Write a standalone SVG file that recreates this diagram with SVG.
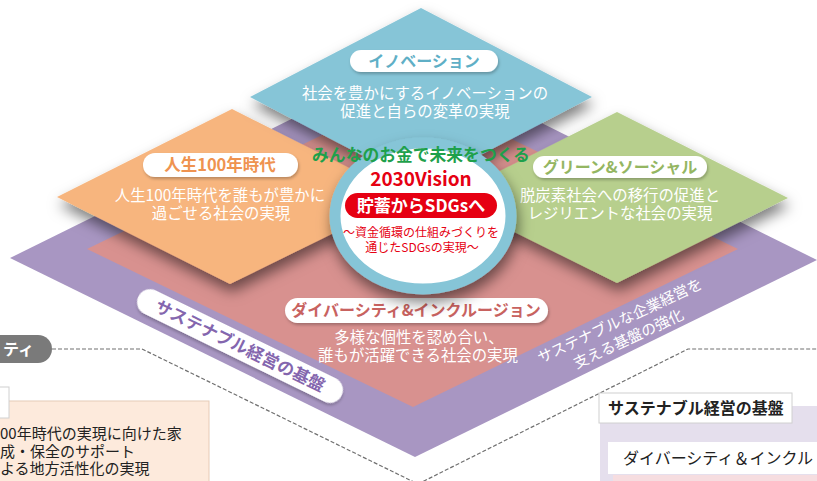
<svg xmlns="http://www.w3.org/2000/svg" width="817" height="481" viewBox="0 0 817 481">
<defs>
<filter id="sh" x="-20%" y="-20%" width="140%" height="160%"><feDropShadow dx="2" dy="8" stdDeviation="7" flood-color="#000" flood-opacity="0.5"/></filter>
<filter id="shs" x="-10%" y="-30%" width="120%" height="180%"><feDropShadow dx="1" dy="2" stdDeviation="1.5" flood-color="#000" flood-opacity="0.25"/></filter>
<style>
text{font-family:"Noto Sans CJK JP","Noto Sans",sans-serif}
.lbl{font-weight:bold;font-size:16px;text-anchor:middle}
.desc{fill:#fff;font-size:15.4px;text-anchor:middle}
.pill{fill:#fff}
.dash{fill:none;stroke:#707070;stroke-width:1.2;stroke-dasharray:4 2}
</style>
</defs>
<rect width="817" height="481" fill="#fff"/>
<g id="node-base">
<polygon points="10,258 413,59 817,260 415,457" fill="#A896C2"/>
<g transform="translate(240,346) rotate(26)">
<rect x="-113" y="-13" width="226" height="26" rx="13" class="pill" filter="url(#shs)"/>
<text x="0" y="6" class="lbl" style="font-size:17px" fill="#8466AE">サステナブル経営の基盤</text>
</g>
<g transform="translate(620,321) rotate(-25)">
<text x="0" y="5" class="desc" style="font-size:15px">サステナブルな企業経営を</text>
<text x="0" y="25" class="desc" style="font-size:15px">支える基盤の強化</text>
</g>
</g>
<g id="node-diversity">
<polygon points="87,249 413,91 738,249 413,407" fill="#D8918F"/>
<rect x="285" y="298" width="263" height="25" rx="12.5" class="pill" filter="url(#shs)"/>
<text x="416" y="316" class="lbl" fill="#C8625F">ダイバーシティ&amp;インクルージョン</text>
<text x="419" y="343" class="desc">多様な個性を認め合い、</text>
<text x="418" y="361" class="desc">誰もが活躍できる社会の実現</text>
</g>
<g id="node-life100">
<polygon points="57,197 232,109 407,197 230,284" fill="#F7B57E" filter="url(#sh)"/>
<rect x="143" y="153" width="155" height="24" rx="12" class="pill" filter="url(#shs)"/>
<text x="220" y="171" class="lbl" style="font-size:16.5px" fill="#EF9350">人生100年時代</text>
<text x="220" y="201" class="desc">人生100年時代を誰もが豊かに</text>
<text x="221" y="219" class="desc">過ごせる社会の実現</text>
</g>
<g id="node-green">
<polygon points="446,198 617,112 788,198 617,283" fill="#B7CF8D" filter="url(#sh)"/>
<rect x="533" y="156" width="174" height="22" rx="11" class="pill" filter="url(#shs)"/>
<text x="620" y="173" class="lbl" fill="#94B662">グリーン&amp;ソーシャル</text>
<text x="620" y="201" class="desc">脱炭素社会への移行の促進と</text>
<text x="620" y="219" class="desc">レジリエントな社会の実現</text>
</g>
<g id="node-innovation">
<polygon points="250,97 421,8 592,97 421,186" fill="#86C5D7" filter="url(#sh)"/>
<rect x="350" y="50" width="148" height="22" rx="11" class="pill" filter="url(#shs)"/>
<text x="424" y="67" class="lbl" fill="#5FAFC6">イノベーション</text>
<text x="425" y="99" class="desc">社会を豊かにするイノベーションの</text>
<text x="425" y="117" class="desc">促進と自らの変革の実現</text>
</g>
<g id="node-vision">
<ellipse cx="423" cy="216" rx="88" ry="73" fill="#fff" stroke="#86C5D7" stroke-width="11" filter="url(#sh)"/>
<text x="421" y="161" text-anchor="middle" font-weight="bold" font-size="16.8" fill="#1EA04B">みんなのお金で未来をつくる</text>
<text x="421" y="186" text-anchor="middle" font-weight="bold" font-size="19" fill="#E60012">2030Vision</text>
<rect x="345" y="193" width="152" height="25" rx="12.5" fill="#E60012"/>
<text x="421" y="212" text-anchor="middle" font-weight="bold" font-size="17" fill="#fff">貯蓄からSDGsへ</text>
<text x="421" y="237" text-anchor="middle" font-size="12" fill="#E60012">～資金循環の仕組みづくりを</text>
<text x="422" y="252" text-anchor="middle" font-size="12" fill="#E60012">通じたSDGsの実現～</text>
</g>
<g id="connectors">
<path class="dash" d="M52,349 H142 L418,484"/>
<path class="dash" d="M418,484 L688,349 H817"/>
</g>
<g id="node-left-tag">
<rect x="-40" y="335" width="92" height="28" rx="14" fill="#7A7A7A"/>
<text x="34" y="355" text-anchor="end" font-weight="bold" font-size="16" fill="#fff">ティ</text>
</g>
<g id="node-left-panel">
<rect x="-2" y="401" width="211" height="84" fill="#FDEADC" stroke="#E6CBB7"/>
<rect x="-50" y="387" width="59" height="31" fill="#fff" stroke="#D0D0D0"/>
<text x="0" y="439" font-size="15" fill="#222">00年時代の実現に向けた家</text>
<text x="0" y="456.5" font-size="15" fill="#222">成・保全のサポート</text>
<text x="0" y="474" font-size="15" fill="#222">よる地方活性化の実現</text>
</g>
<g id="node-right-panel">
<rect x="600" y="406" width="220" height="80" fill="#E5DFED"/>
<rect x="599" y="393" width="193" height="30" fill="#fff" stroke="#D0D0D0"/>
<text x="608" y="414" font-size="16" font-weight="bold" fill="#222">サステナブル経営の基盤</text>
<rect x="608" y="442" width="215" height="32" fill="#fff"/>
<rect x="613" y="475" width="210" height="10" fill="#F6DDE0"/>
<text x="623" y="464" font-size="16" fill="#222">ダイバーシティ＆インクル</text>
</g>
</svg>
